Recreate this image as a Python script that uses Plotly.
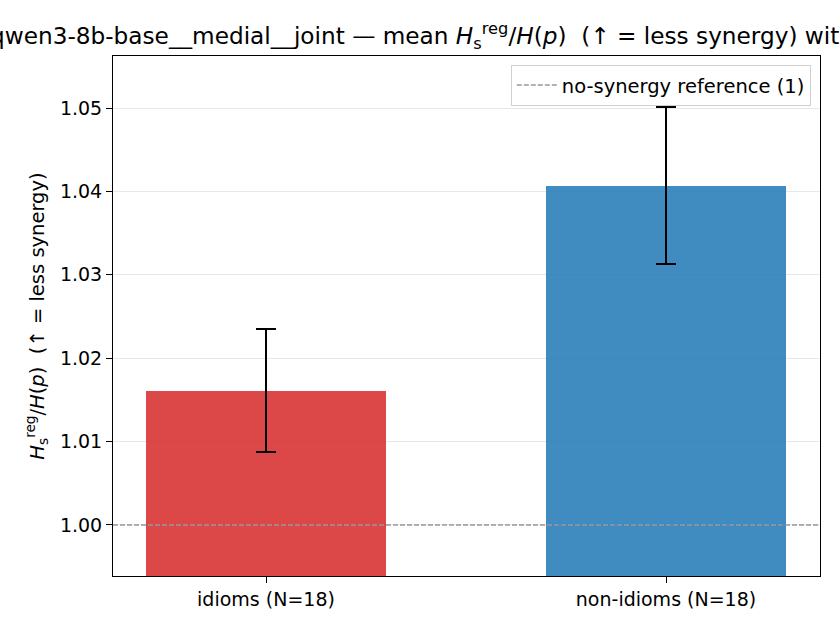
import plotly.graph_objects as go

# values
groups = ['idioms (N=18)', 'non-idioms (N=18)']
mean_ratio = [1.0161, 1.0407]
err = [0.0074, 0.0094]
bar_colors = ['rgba(214,39,40,0.85)', 'rgba(31,119,180,0.85)']
ref_value = 1.0
y_ticks = [1.00, 1.01, 1.02, 1.03, 1.04, 1.05]

title_text = ('qwen3-8b-base__medial__joint — mean <i>H</i><sub>s</sub><sup>reg</sup>/<i>H</i>(<i>p</i>)'
              '  (↑ = less synergy) with 95% CI')
ylab_text = '<i>H</i><sub>s</sub><sup>reg</sup>/<i>H</i>(<i>p</i>)  (↑ = less synergy)'

fig = go.Figure()

fig.add_trace(go.Bar(
    x=[0, 1], y=mean_ratio, width=0.6,
    marker_color=bar_colors, marker_line_width=0,
    error_y=dict(type='data', array=err, color='black', thickness=2, width=10),
    showlegend=False,
))

# reference line (shape) + legend entry
ref_line = dict(color='#999999', width=1.4, dash='5px,2px')
fig.add_hline(y=ref_value, line=ref_line, layer='above')
fig.add_trace(go.Scatter(
    x=[None], y=[None], mode='lines', line=ref_line,
    name='no-synergy reference (1)', showlegend=True,
))

# title as annotation so it overflows / gets clipped like the original
fig.add_annotation(
    text=title_text, xref='paper', yref='paper', x=0.5, y=1.0, yshift=20,
    xanchor='center', yanchor='middle', showarrow=False,
    font=dict(size=23.2, color='black'),
)

fig.update_layout(
    width=840, height=630,
    paper_bgcolor='white', plot_bgcolor='white',
    font=dict(family='DejaVu Sans', size=19, color='black'),
    margin=dict(l=113, r=20, t=56, b=54),
    bargap=0,
    legend=dict(
        x=0.987, y=0.983, xanchor='right', yanchor='top',
        bgcolor='rgba(255,255,255,0.8)', bordercolor='#d0d0d0', borderwidth=1,
        font=dict(size=19.5), itemwidth=40,
    ),
)

fig.update_xaxes(
    range=[-0.3825, 1.385], tickvals=[0, 1], ticktext=groups,
    showline=True, linecolor='black', linewidth=1, mirror=True,
    ticks='outside', ticklen=6, tickcolor='black', showgrid=False, zeroline=False,
)
fig.update_yaxes(
    range=[0.99388, 1.05624], tickvals=y_ticks, tickformat='.2f',
    showline=True, linecolor='black', linewidth=1, mirror=True,
    ticks='outside', ticklen=6, tickcolor='black',
    showgrid=True, gridcolor='#e8e8e8', gridwidth=1.2, zeroline=False,
    title=dict(text=ylab_text, font=dict(size=19.5), standoff=10),
)

# drop the default 8px body margin so the figure fills the window
fig.write_html("out.html", config={'displayModeBar': False},
               post_script="document.body.style.margin='0';")
